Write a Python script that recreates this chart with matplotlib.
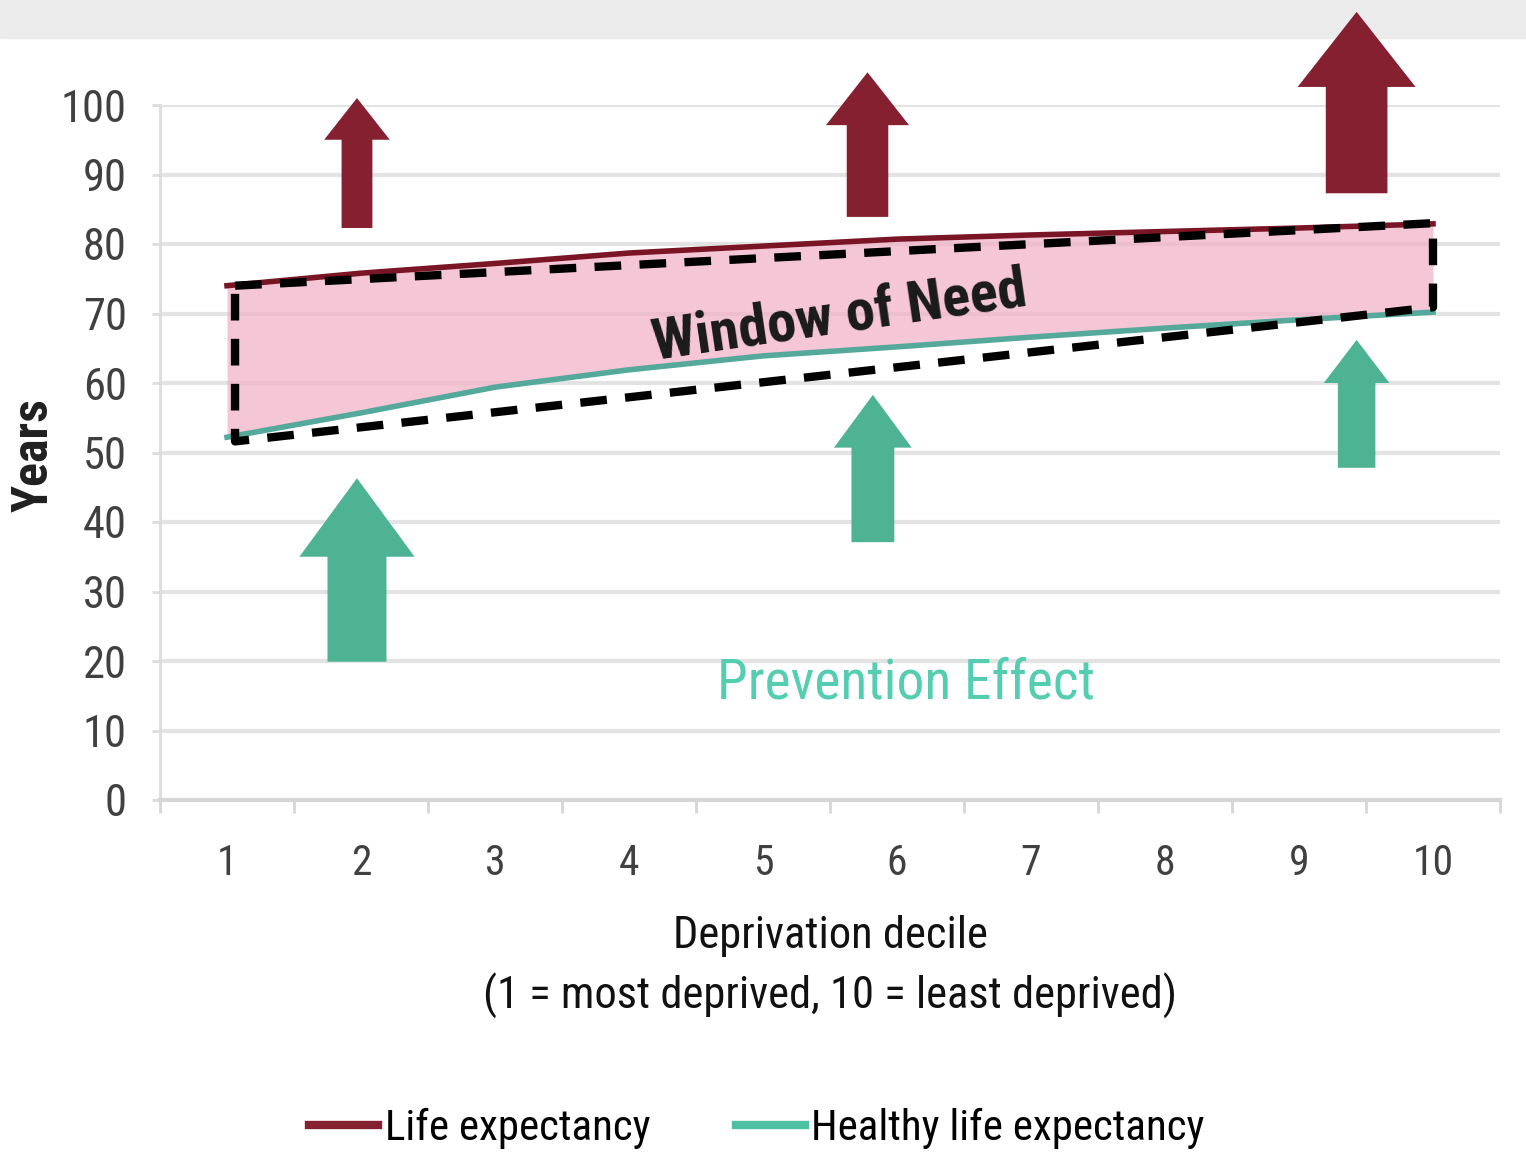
import matplotlib
matplotlib.use('Agg')
import matplotlib.pyplot as plt
from matplotlib.patches import FancyArrow, Rectangle
import numpy as np

plt.rcParams['font.family'] = ['Roboto Condensed', 'PT Sans Narrow', 'Archivo Narrow',
                               'Liberation Sans', 'DejaVu Sans']

# Deprivation deciles and the two expectancy curves (years)
deciles = [1, 2, 3, 4, 5, 6, 7, 8, 9, 10]
life_exp = [74.0, 75.8, 77.2, 78.7, 79.7, 80.7, 81.3, 81.8, 82.3, 82.9]
healthy_exp = [52.2, 55.7, 59.4, 61.9, 63.9, 65.2, 66.6, 67.9, 69.1, 70.2]

# "Window of need" outline corners: (decile, years), drawn as a closed dashed box
window_x = [1.06, 10.0, 10.0, 1.06, 1.06]
window_y = [74.0, 83.0, 70.9, 51.6, 74.0]

# Arrows: decile, tail, tip, shaft width, head width (decile units), head length (years)
red_arrows = [
    (1.97, 82.3, 101.0, 0.23, 0.49, 6.0),
    (5.78, 83.9, 104.7, 0.31, 0.62, 7.6),
    (9.43, 87.3, 113.4, 0.46, 0.88, 10.8),
]
green_arrows = [
    (1.97, 19.9, 46.3, 0.44, 0.86, 11.3),
    (5.82, 37.1, 58.3, 0.32, 0.58, 7.6),
    (9.43, 47.8, 66.2, 0.28, 0.49, 6.2),
]

RED = '#84202f'
GREEN = '#4db392'
PINK = '#f2b0c6'

fig = plt.figure(figsize=(15.26, 11.53), dpi=100)
fig.patches.append(Rectangle((0, 1 - 38 / 1153), 1, 38 / 1153,
                             transform=fig.transFigure, color='#ebebeb', zorder=-1))

ax = fig.add_axes([160 / 1526, 353 / 1153, 1340 / 1526, 695 / 1153])
ax.set_xlim(0.5, 10.5)
ax.set_ylim(0, 100)

# grid and axes styling
ax.set_yticks(np.arange(0, 101, 10))
ax.yaxis.grid(True, color='#e3e3e3', linewidth=3.0, zorder=0)
ax.set_axisbelow(True)
for side in ['top', 'right']:
    ax.spines[side].set_visible(False)
ax.spines['left'].set_color('#dcdcdc')
ax.spines['left'].set_linewidth(2)
ax.spines['bottom'].set_color('#d6d6d6')
ax.spines['bottom'].set_linewidth(3)

ax.set_xticks(deciles)
ax.set_xticklabels([str(d) for d in deciles])
ax.set_xticks(np.arange(0.5, 10.6, 1), minor=True)
ax.tick_params(axis='x', which='major', length=0, pad=31, labelsize=30, labelcolor='#404040')
ax.tick_params(axis='x', which='minor', length=9, width=2, color='#d6d6d6')
ax.tick_params(axis='y', length=6, width=2, color='#dcdcdc', pad=18, labelsize=32,
               labelcolor='#404040')

# curves and the shaded gap between them
ax.fill_between(deciles, healthy_exp, life_exp, color=PINK, alpha=0.72, linewidth=0, zorder=3)
ax.plot(deciles, life_exp, color='#7a1526', linewidth=4, zorder=4, label='Life expectancy')
ax.plot(deciles, healthy_exp, color='#55a99b', linewidth=4, zorder=4)
ax.plot([], [], color='#4cc0a0', linewidth=6, label='Healthy life expectancy')

# dashed window outline
ax.plot(window_x, window_y, color='black', linewidth=6, linestyle=(0, (3.2, 2.2)),
        zorder=5, solid_capstyle='butt')

for arrows, color in [(red_arrows, RED), (green_arrows, GREEN)]:
    for x, y0, y1, w, hw, hl in arrows:
        ax.add_patch(FancyArrow(x, y0, 0, y1 - y0, width=w, head_width=hw,
                                head_length=hl, length_includes_head=True,
                                color=color, linewidth=0, zorder=6, clip_on=False))

ax.text(5.57, 69.3, 'Window of Need', rotation=8.3, ha='center', va='center',
        fontsize=42, fontweight='bold', color='#1a1a1a', zorder=7)
ax.text(6.07, 16.8, 'Prevention Effect', ha='center', va='center',
        fontsize=40, color='#55cdb0', zorder=7)

ax.set_ylabel('Years', fontsize=36, fontweight='bold', color='#202020')
ax.yaxis.set_label_coords(-0.076, 0.496)
ax.set_xlabel('Deprivation decile\n(1 = most deprived, 10 = least deprived)',
              fontsize=32, color='#111111', labelpad=22, linespacing=1.45)

leg = fig.legend(loc='center', bbox_to_anchor=(757 / 1526, 1 - 1128 / 1153), ncol=2,
                 frameon=False, fontsize=31, handlelength=1.6, handletextpad=0.15,
                 columnspacing=2.0)
for line in leg.get_lines():
    line.set_linewidth(6)
leg.get_lines()[0].set_color(RED)

fig.savefig('out.png', dpi=100)
